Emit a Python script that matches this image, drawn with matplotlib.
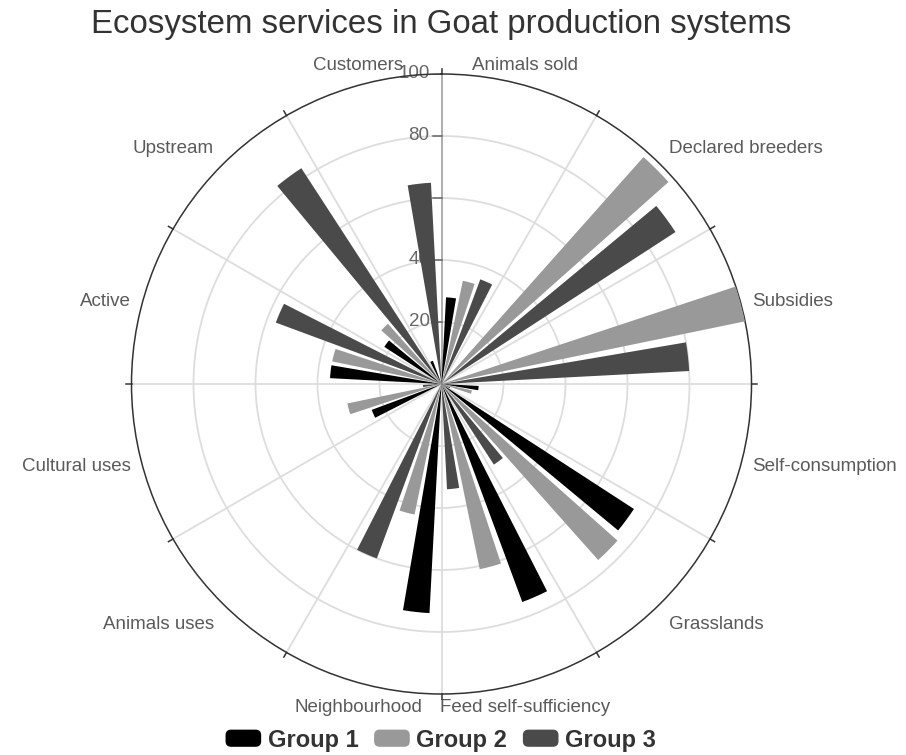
import numpy as np
import matplotlib
matplotlib.use('Agg')
import matplotlib.pyplot as plt
from matplotlib.patches import Patch, FancyBboxPatch
from matplotlib.legend_handler import HandlerPatch

plt.rcParams['font.family'] = ['Liberation Sans', 'DejaVu Sans']

# data
categories = ['Animals sold', 'Declared breeders', 'Subsidies', 'Self-consumption',
              'Grasslands', 'Feed self-sufficiency', 'Neighbourhood', 'Animals uses',
              'Cultural uses', 'Active', 'Upstream', 'Customers']
group1 = [28, 0, 0, 12, 74, 75, 74, 0, 24, 36, 22, 8]
group2 = [34, 98, 100, 10, 76, 61, 43, 0, 31, 36, 26, 0]
group3 = [36, 90, 80, 3, 31, 34, 60, 0, 6, 57, 83, 65]
series_names = ['Group 1', 'Group 2', 'Group 3']
colors = ['#000000', '#999999', '#4a4a4a']
radial_ticks = [20, 40, 60, 80, 100]

n = len(categories)
sector = 360 / n
bar_w = sector * 0.8 / 3.6          # category gap 20%, bar gap 30%
centers = sector / 2 + sector * np.arange(n)
offsets = [-1.3 * bar_w, 0, 1.3 * bar_w]

fig = plt.figure(figsize=(9.06, 7.55), dpi=100)
ax = fig.add_axes([131.5 / 906, 61 / 755, 620 / 906, 620 / 755], projection='polar')
ax.set_theta_zero_location('N')
ax.set_theta_direction(-1)
ax.set_ylim(0, 100)

for vals, off, col, name in zip([group1, group2, group3], offsets, colors, series_names):
    ax.bar(np.deg2rad(centers + off), vals, width=np.deg2rad(bar_w), color=col,
           label=name, zorder=3, linewidth=0)

# grid
ax.set_thetagrids(np.arange(0, 360, 30), labels=[''] * 12)
ax.set_rgrids([20, 40, 60, 80], labels=[''] * 4)
ax.grid(True, color='#dddddd', linewidth=1.3, zorder=0)
ax.spines['polar'].set_color('#333333')
ax.spines['polar'].set_linewidth(1.1)
ax.tick_params(axis='both', length=0, pad=0)

# outer ticks
for a in np.arange(0, 360, 30):
    ax.plot([np.deg2rad(a)] * 2, [100, 101.7], color='#333333', lw=1.1,
            clip_on=False, zorder=4)

# radius axis along 0 deg
ax.plot([0, 0], [0, 100], color='#aaaaaa', lw=1.3, zorder=2)
for r in radial_ticks:
    d = 2.7
    ax.plot([np.arctan2(-d, r), 0], [np.hypot(d, r), r], color='#666666', lw=1.1, zorder=2)
    ax.annotate(str(r), xy=(0, r), xytext=(-12, 0), textcoords='offset pixels',
                ha='right', va='center', fontsize=13.5, color='#666666', zorder=2)

# category labels
for ang, name in zip(centers, categories):
    s, c = np.sin(np.deg2rad(ang)), np.cos(np.deg2rad(ang))
    ha = 'left' if s > 0.3 else ('right' if s < -0.3 else 'center')
    dy = 10 * c + (9 if c > 0.3 else (-14 if c < -0.3 else 0))
    ax.annotate(name, xy=(np.deg2rad(ang), 100), xytext=(12 * s, dy),
                textcoords='offset pixels', ha=ha, va='center',
                fontsize=13.5, color='#5a5a5a', annotation_clip=False)

fig.text(441 / 906, 1 - 25 / 755, 'Ecosystem services in Goat production systems',
         ha='center', va='center', fontsize=23.8, color='#333333')


def rounded(legend, orig_handle, xdescent, ydescent, width, height, fontsize):
    return FancyBboxPatch((-xdescent, -ydescent), width, height,
                          boxstyle='round,pad=0,rounding_size=3.5')


handles = [Patch(color=c, label=nm) for c, nm in zip(colors, series_names)]
leg = fig.legend(handles=handles, loc='center', bbox_to_anchor=(441 / 906, 1 - 740 / 755),
                 ncol=3, frameon=False, handlelength=1.45, handleheight=0.65,
                 handletextpad=0.3, columnspacing=0.7,
                 prop={'weight': 'bold', 'size': 17},
                 handler_map={Patch: HandlerPatch(patch_func=rounded)})
for t in leg.get_texts():
    t.set_color('#333333')

fig.savefig('out.png', dpi=100)
